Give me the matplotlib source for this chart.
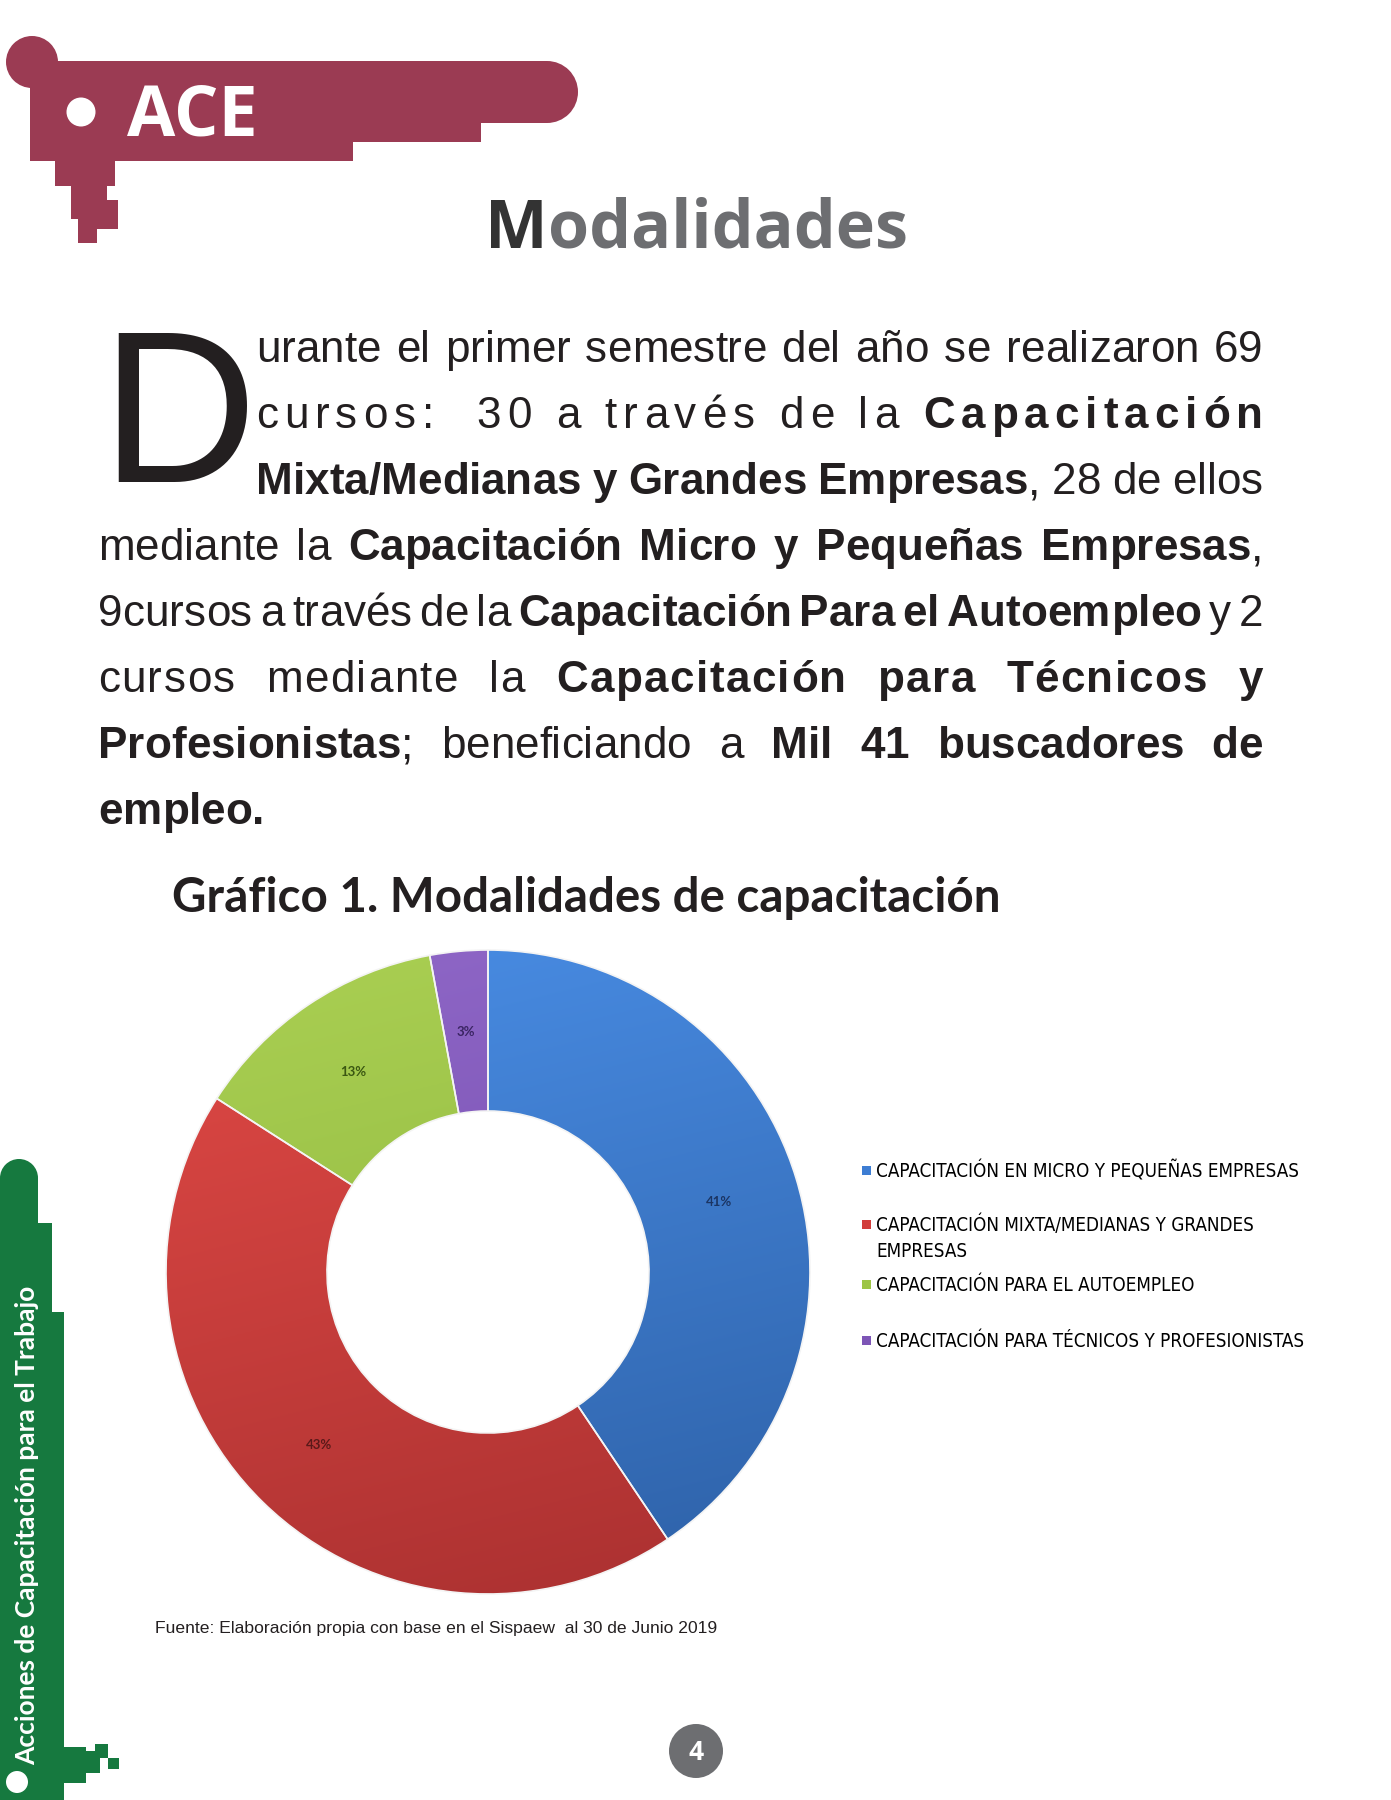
import numpy as np
import matplotlib
matplotlib.use('Agg')
import matplotlib.pyplot as plt
from matplotlib import font_manager
from matplotlib.font_manager import FontProperties
from matplotlib.patches import Rectangle, Circle
from matplotlib.colors import to_rgb

# Datos del gráfico
categorias = [
    'CAPACITACIÓN EN MICRO Y PEQUEÑAS EMPRESAS',
    'CAPACITACIÓN MIXTA/MEDIANAS Y GRANDES\nEMPRESAS',
    'CAPACITACIÓN PARA EL AUTOEMPLEO',
    'CAPACITACIÓN PARA TÉCNICOS Y PROFESIONISTAS',
]
cursos = [28, 30, 9, 2]
colores = ['#3d7dd3', '#d23d3b', '#9dc545', '#7d55b6']

titulo = 'Gráfico 1. Modalidades de capacitación'
fuente = 'Fuente: Elaboración propia con base en el Sispaew  al 30 de Junio 2019'
lateral = 'Acciones de Capacitación para el Trabajo'

# Párrafo, un renglón por entrada (los * abren/cierran negritas)
parrafo = [
    'urante el primer semestre del año se realizaron 69',
    'cursos:  30 a través de la *Capacitación*',
    '*Mixta/Medianas y Grandes Empresas*, 28 de ellos',
    'mediante la *Capacitación Micro y Pequeñas Empresas*,',
    '9cursos a través de la *Capacitación Para el Autoempleo* y 2',
    'cursos mediante la *Capacitación para Técnicos y*',
    '*Profesionistas*; beneficiando a *Mil 41 buscadores de*',
    '*empleo.*',
]
# modo de cada renglón: j = justificado, l = espaciado de letras, i = izquierda
modos = ['j', 'l', 'j', 'j', 'j', 'j', 'j', 'i']
tracking = [0, 0, 0, 0, 0, 1.5, 0, 0]

GUINDA = '#9b3b53'
VERDE = '#16793f'
GRIS = '#6d6e71'
NEGRO = '#231f20'

W, H = 1391, 1800
fig = plt.figure(figsize=(W / 100, H / 100), dpi=100)
ax = fig.add_axes([0, 0, 1, 1])
ax.set_xlim(0, W)
ax.set_ylim(H, 0)
ax.axis('off')
rend = fig.canvas.get_renderer()


def peso(f):
    return font_manager.weight_dict.get(f.weight, f.weight)


# busca una fuente angosta (tipo Calibri) entre las instaladas
def busca_angosta():
    prefer = [('Noto Sans', 'cond'), ('Open Sans', 'cond'), ('DejaVu Sans', 'cond'),
              ('Noto Sans Condensed', ''), ('Noto Sans SemiCondensed', ''),
              ('Open Sans Condensed', ''), ('Open Sans SemiCondensed', ''),
              ('DejaVu Sans Condensed', ''), ('Liberation Sans Narrow', '')]
    for nombre, est in prefer:
        for f in font_manager.fontManager.ttflist:
            if f.name == nombre and f.style == 'normal' and peso(f) == 400 \
                    and (est == '' or 'condensed' in str(f.stretch)):
                return FontProperties(fname=f.fname)
    return FontProperties(family='Lato')


def ancho(s, fp):
    return rend.get_text_width_height_descent(s, fp, ismath=False)[0]


def ajusta(s, fp, objetivo):
    f = fp.copy()
    f.set_size(20)
    f2 = fp.copy()
    f2.set_size(20 * objetivo / ancho(s, f))
    return f2


# ---- Encabezado ACE ----
ax.add_patch(Rectangle((30, 61), 517, 62, color=GUINDA, lw=0))
ax.add_patch(Circle((547, 92), 31, color=GUINDA, lw=0))
ax.add_patch(Circle((32, 62), 26, color=GUINDA, lw=0))
ax.add_patch(Rectangle((30, 122), 451, 20, color=GUINDA, lw=0))
ax.add_patch(Rectangle((30, 141), 323, 20, color=GUINDA, lw=0))
ax.add_patch(Rectangle((55, 160), 60, 26, color=GUINDA, lw=0))
ax.add_patch(Rectangle((71, 185), 36, 34, color=GUINDA, lw=0))
ax.add_patch(Rectangle((107, 200), 11, 29, color=GUINDA, lw=0))
ax.add_patch(Rectangle((92, 218), 26, 11, color=GUINDA, lw=0))
ax.add_patch(Rectangle((78, 218), 19, 25, color=GUINDA, lw=0))
ax.add_patch(Circle((81, 112), 14.5, color='white', lw=0))
fp_ace = ajusta('ACE', FontProperties(family='Open Sans', weight='bold'), 131)
ax.text(127, 136, 'ACE', fontproperties=fp_ace, color='white', ha='left', va='baseline')

# ---- Título Modalidades ----
fp_mod = ajusta('Modalidades', FontProperties(family='Open Sans', weight='bold'), 423)
ax.text(485, 248, 'M', fontproperties=fp_mod, color='#333333', ha='left', va='baseline')
x_o = 485 + ancho('Mo', fp_mod) - ancho('o', fp_mod)
ax.text(x_o, 248, 'odalidades', fontproperties=fp_mod, color=GRIS, ha='left', va='baseline')

# ---- Párrafo ----
FS = 31.7
fp_reg = FontProperties(family='Liberation Sans', size=FS)
fp_neg = FontProperties(family='Liberation Sans', size=FS, weight='bold')
cache = {}


def avance(c, neg):
    k = (c, neg)
    if k not in cache:
        fp = fp_neg if neg else fp_reg
        cache[k] = ancho('|' + c + '|', fp) - ancho('||', fp)
    return cache[k]


def renglon(texto, x0, x1, y, modo, track):
    chars, neg = [], False
    for ch in texto:
        if ch == '*':
            neg = not neg
        else:
            chars.append((ch, neg))

    def pinta(c, neg, xc):
        if c != ' ':
            ax.text(xc, y, c, fontproperties=fp_neg if neg else fp_reg,
                    color=NEGRO, ha='center', va='baseline')

    if modo == 'l':
        adv = [avance(c, n) for c, n in chars]
        t = (x1 - x0 - sum(adv)) / (len(chars) - 1)
        x = x0
        for (c, n), a in zip(chars, adv):
            pinta(c, n, x + a / 2)
            x += a + t
        return

    palabras, actual = [], []
    for c, n in chars:
        if c == ' ':
            if actual:
                palabras.append(actual)
            actual = []
        else:
            actual.append((c, n))
    if actual:
        palabras.append(actual)
    anchos = [sum(avance(c, n) for c, n in p) + track * (len(p) - 1) for p in palabras]
    if modo == 'j':
        gap = (x1 - x0 - sum(anchos)) / (len(palabras) - 1)
    else:
        gap = avance(' ', False) + track
    x = x0
    for p in palabras:
        for c, n in p:
            a = avance(c, n)
            pinta(c, n, x + a / 2)
            x += a + track
        x += gap - track


base0, paso = 362, 66
for i, (linea, modo, tr) in enumerate(zip(parrafo, modos, tracking)):
    x0 = 256 if i < 3 else 98
    renglon(linea, x0, 1263, base0 + i * paso, modo, tr)

# letra capital
ax.text(100, 482, 'D', family='Liberation Sans', size=156, color=NEGRO,
        ha='left', va='baseline')

# ---- Título del gráfico ----
fp_tit = ajusta(titulo, FontProperties(family='Lato', weight='bold'), 828)
ax.text(172, 912, titulo, fontproperties=fp_tit, color=NEGRO, ha='left', va='baseline')

# ---- Dona ----
cx, cy, r = 488, 1272, 322
axp = fig.add_axes([(cx - r) / W, 1 - (cy + r) / H, 2 * r / W, 2 * r / H])
wedges, _, autot = axp.pie(
    cursos, colors=colores, startangle=90, counterclock=False, radius=1,
    wedgeprops=dict(width=0.5, edgecolor='#f4f4f4', linewidth=1.2),
    autopct='%1.0f%%', pctdistance=0.75,
    textprops=dict(fontsize=9.5, fontweight='bold', family='Lato'))

# degradado suave dentro de cada sector
claros = ['#4a8ee6', '#e24a46', '#abd053', '#9068c8']
oscuros = ['#2d60a6', '#a93030', '#87b03a', '#6c45a6']
yy, xx = np.mgrid[-1:1:300j, -1:1:300j]
t = np.clip((1 - yy) / 2 * 0.8 + (xx + 1) / 2 * 0.2, 0, 1)[..., None]
for w, c1, c2 in zip(wedges, claros, oscuros):
    img = (1 - t) * np.array(to_rgb(c1)) + t * np.array(to_rgb(c2))
    im = axp.imshow(img, extent=(-1, 1, -1, 1), origin='lower', zorder=1.5)
    im.set_clip_path(w)
    w.set_facecolor('none')
    w.set_zorder(2)

colores_pct = ['#1b3563', '#5a1919', '#3a5712', '#3a2462']
for txt, c in zip(autot, colores_pct):
    txt.set_color(c)
    txt.set_zorder(5)
axp.set_xlim(-1, 1)
axp.set_ylim(-1, 1)
axp.axis('off')

# ---- Leyenda ----
fp_ley = ajusta(categorias[0], busca_angosta(), 424)
bases = [1177, 1231, 1291, 1347]
for cat, col, b in zip(categorias, colores, bases):
    ax.add_patch(Rectangle((862, b - 11), 9, 9, color=col, lw=0))
    for k, parte in enumerate(cat.split('\n')):
        ax.text(876, b + 26 * k, parte, fontproperties=fp_ley, color='black',
                ha='left', va='baseline')

# ---- Fuente ----
fp_fu = ajusta(fuente, FontProperties(family='Liberation Sans'), 561)
ax.text(155, 1633, fuente, fontproperties=fp_fu, color=NEGRO, ha='left', va='baseline')

# ---- Barra lateral verde ----
ax.add_patch(Rectangle((0, 1178), 38, 622, color=VERDE, lw=0))
ax.add_patch(Circle((19, 1178), 19, color=VERDE, lw=0))
ax.add_patch(Rectangle((0, 1223), 52, 577, color=VERDE, lw=0))
ax.add_patch(Rectangle((0, 1312), 64, 488, color=VERDE, lw=0))
ax.add_patch(Rectangle((64, 1747), 22, 36, color=VERDE, lw=0))
ax.add_patch(Rectangle((86, 1751), 22, 7, color=VERDE, lw=0))
ax.add_patch(Rectangle((95, 1744), 13, 14, color=VERDE, lw=0))
ax.add_patch(Rectangle((86, 1758), 14, 15, color=VERDE, lw=0))
ax.add_patch(Rectangle((108, 1758), 11, 11, color=VERDE, lw=0))
ax.add_patch(Circle((17, 1782), 11, color='white', lw=0))
fp_lat = ajusta(lateral, FontProperties(family='Lato', weight='bold'), 481)
ax.text(35, 1765, lateral, fontproperties=fp_lat, color='white',
        rotation=90, rotation_mode='anchor', ha='left', va='baseline')

# ---- Número de página ----
ax.add_patch(Circle((696, 1751), 27, color=GRIS, lw=0))
ax.text(696, 1752, '4', family='Open Sans', weight='bold', size=19, color='white',
        ha='center', va='center')

fig.savefig('out.png', dpi=100)
